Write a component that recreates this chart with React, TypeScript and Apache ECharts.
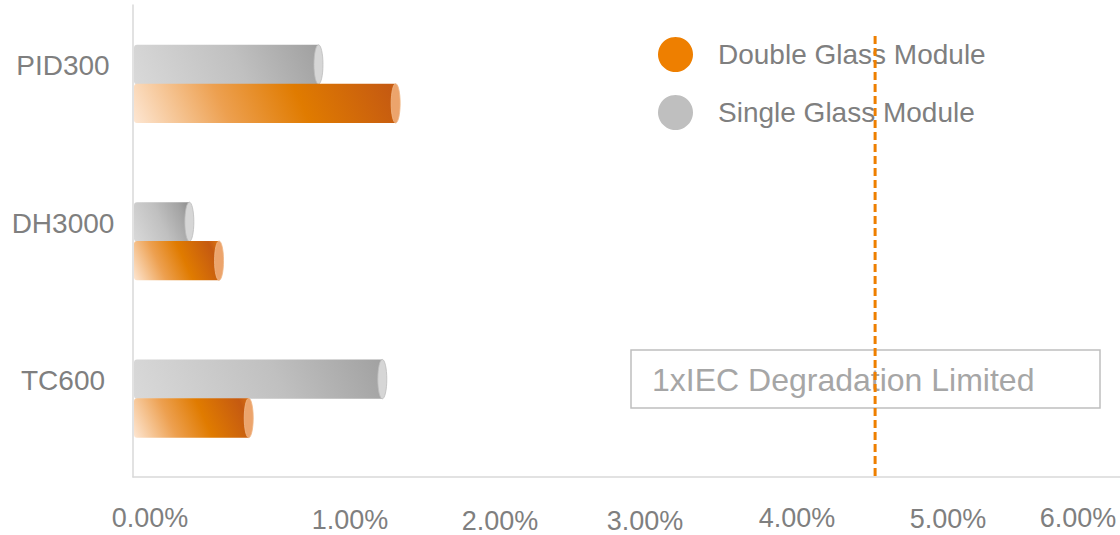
import React, { useEffect, useRef } from "react";
import * as echarts from "echarts";

const CATEGORIES = ["PID300", "DH3000", "TC600"];
const SINGLE_GLASS = [1.28, 0.41, 1.71];
const DOUBLE_GLASS = [1.8, 0.61, 0.81];
const SERIES_NAMES = ["Double Glass Module", "Single Glass Module"];
const TICK_LABELS = ["0.00%", "1.00%", "2.00%", "3.00%", "4.00%", "5.00%", "6.00%"];
const LIMIT_VALUE = 5;
const LIMIT_LABEL = "1xIEC Degradation Limited";
const X_MAX = 6.65;

// layout of the free-floating tick labels (as placed in the reference)
const TICK_X = [150, 350, 500, 645, 797, 948, 1078];
const TICK_Y = [518, 520, 521, 521, 518, 519, 518];

const TEXT_GRAY = "#7f7f7f";

function makeRender(kind: "gray" | "orange") {
  const stops =
    kind === "orange"
      ? [
          { offset: 0, color: "#fde6d2" },
          { offset: 0.3, color: "#eda050" },
          { offset: 0.55, color: "#e07b00" },
          { offset: 0.85, color: "#c55a11" },
          { offset: 1, color: "#e88414" },
        ]
      : [
          { offset: 0, color: "#d9d9d9" },
          { offset: 0.5, color: "#c0c0c0" },
          { offset: 0.85, color: "#a3a3a3" },
          { offset: 1, color: "#8e8e8e" },
        ];
  const capFill = kind === "orange" ? "#eca46c" : "#d6d6d6";
  const capStroke = kind === "orange" ? "#f0b888" : "#bdbdbd";
  return (params: any, api: any) => {
    const v = api.value(0);
    const cat = api.value(1);
    const start = api.coord([0, cat]);
    const end = api.coord([v, cat]);
    const band = api.size([0, 1])[1];
    const h = band * 0.25;
    const off = kind === "gray" ? -band * 0.122 : band * 0.125;
    const cy = start[1] + off;
    const y0 = cy - h / 2;
    const rx = 4.5;
    const x0 = start[0] + 1;
    const x1 = end[0];
    const len = x1 - x0;
    const grad = new echarts.graphic.LinearGradient(
      x0,
      y0 + h,
      x1,
      y0 + h - len * 0.45,
      stops,
      true
    );
    return {
      type: "group",
      children: [
        {
          type: "rect",
          shape: { x: x0, y: y0, width: Math.max(0, x1 - rx - x0), height: h, r: [3, 0, 0, 3] },
          style: { fill: grad },
        },
        {
          type: "ellipse",
          shape: { cx: x1 - rx, cy, rx, ry: h / 2 },
          style: { fill: capFill, stroke: capStroke, lineWidth: 0.8 },
        },
      ],
    };
  };
}

export default function App() {
  const ref = useRef<HTMLDivElement>(null);
  useEffect(() => {
    document.body.style.margin = "0";
    const chart = echarts.init(ref.current!, null, { renderer: "svg" });
    const grid = { left: 133, right: 0, top: 5, bottom: 58 };
    chart.setOption({
      animation: false,
      grid,
      legend: {
        data: SERIES_NAMES,
        orient: "vertical",
        left: 653,
        top: 32,
        icon: "circle",
        itemWidth: 35,
        itemHeight: 35,
        itemGap: 23,
        textStyle: {
          fontFamily: "Liberation Sans, Arial, sans-serif",
          fontSize: 28,
          color: TEXT_GRAY,
          padding: [0, 0, 0, 20],
        },
      },
      xAxis: {
        type: "value",
        min: 0,
        max: X_MAX,
        axisLine: { show: true, lineStyle: { color: "#d9d9d9", width: 1.5 } },
        axisTick: { show: false },
        axisLabel: { show: false },
        splitLine: { show: false },
      },
      yAxis: {
        type: "category",
        inverse: true,
        data: CATEGORIES,
        axisLine: { show: true, lineStyle: { color: "#d9d9d9", width: 1.5 } },
        axisTick: { show: false },
        axisLabel: {
          margin: 70,
          align: "center",
          verticalAlign: "bottom",
          lineHeight: 36,
          fontFamily: "Liberation Sans, Arial, sans-serif",
          fontSize: 28,
          color: TEXT_GRAY,
        },
      },
      series: [
        {
          name: SERIES_NAMES[1],
          type: "custom",
          renderItem: makeRender("gray"),
          itemStyle: { color: "#bfbfbf" },
          encode: { x: 0, y: 1 },
          data: SINGLE_GLASS.map((v, i) => [v, i]),
          z: 2,
        },
        {
          name: SERIES_NAMES[0],
          type: "custom",
          renderItem: makeRender("orange"),
          itemStyle: { color: "#ee7f00" },
          encode: { x: 0, y: 1 },
          data: DOUBLE_GLASS.map((v, i) => [v, i]),
          z: 3,
        },
      ],
    });
    const limitX = chart.convertToPixel({ xAxisIndex: 0 }, LIMIT_VALUE) as number;
    const bottomY = 535 - grid.bottom;
    chart.setOption({
      graphic: [
        ...TICK_LABELS.map((t, i) => ({
          type: "text",
          x: TICK_X[i],
          y: TICK_Y[i],
          style: {
            text: t,
            fontFamily: "Liberation Sans, Arial, sans-serif",
            fontSize: 27,
            fill: TEXT_GRAY,
            align: "center",
            verticalAlign: "middle",
          },
        })),
        {
          type: "rect",
          shape: { x: 631, y: 350, width: 469, height: 58 },
          style: { fill: "#ffffff", stroke: "#bfbfbf", lineWidth: 1.5 },
          z: 10,
        },
        {
          type: "text",
          x: 652,
          y: 380,
          style: {
            text: LIMIT_LABEL,
            fontFamily: "Liberation Sans, Arial, sans-serif",
            fontSize: 32,
            fill: "#a6a6a6",
            align: "left",
            verticalAlign: "middle",
          },
          z: 11,
        },
        {
          type: "line",
          shape: { x1: limitX, y1: 36, x2: limitX, y2: bottomY },
          style: { stroke: "#ee7f00", lineWidth: 3, lineDash: [8, 4] },
          z: 100,
        },
      ],
    });
    return () => chart.dispose();
  }, []);
  return (
    <div
      ref={ref}
      style={{ position: "absolute", left: 0, top: 0, width: 1120, height: 535 }}
    />
  );
}
